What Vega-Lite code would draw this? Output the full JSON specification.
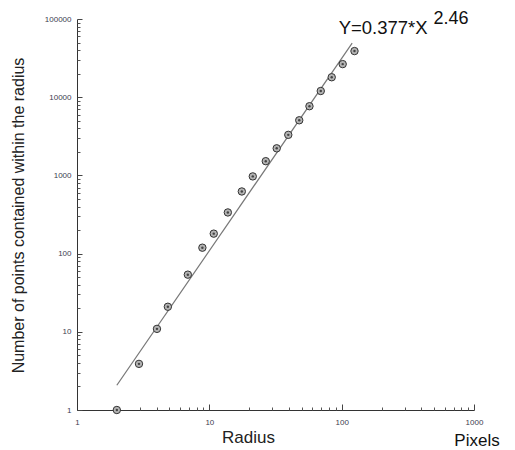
{
  "$schema": "https://vega.github.io/schema/vega-lite/v6.json",
  "width": 397,
  "height": 391,
  "autosize": {"type": "none"},
  "padding": {"left": 77, "top": 19, "right": 41, "bottom": 40},
  "background": "white",
  "config": {
    "view": {"stroke": null},
    "axis": {
      "grid": false,
      "domainColor": "#333333",
      "domainWidth": 1,
      "labelFont": "Liberation Sans",
      "labelFontSize": 8,
      "labelColor": "#3d3d50",
      "labelFlush": false,
      "labelOverlap": false,
      "titleFont": "Liberation Sans",
      "titleFontWeight": "normal",
      "titleColor": "#222222"
    }
  },
  "datasets": {
    "pts": [
      {"x": 2, "y": 1},
      {"x": 2.94, "y": 3.89},
      {"x": 4.02, "y": 10.9},
      {"x": 4.86, "y": 20.9},
      {"x": 6.88, "y": 53.8},
      {"x": 8.86, "y": 119},
      {"x": 10.8, "y": 180},
      {"x": 13.8, "y": 336},
      {"x": 17.6, "y": 623},
      {"x": 21.3, "y": 971},
      {"x": 26.7, "y": 1520},
      {"x": 32.3, "y": 2220},
      {"x": 39.5, "y": 3300},
      {"x": 47.8, "y": 5070},
      {"x": 57.1, "y": 7670},
      {"x": 69.5, "y": 12000},
      {"x": 84.1, "y": 18000},
      {"x": 101.8, "y": 26500},
      {"x": 125, "y": 38900}
    ],
    "fit": [
      {"x": 2, "y": 2.074},
      {"x": 120, "y": 49100}
    ]
  },
  "resolve": {"axis": {"x": "independent", "y": "independent"}},
  "layer": [
    {
      "data": {"name": "fit"},
      "mark": {"type": "line", "color": "#777777", "strokeWidth": 1.2},
      "encoding": {
        "x": {
          "field": "x", "type": "quantitative",
          "scale": {"type": "log", "domain": [1, 1000], "nice": false},
          "axis": {
            "orient": "bottom",
            "values": [1, 10, 100, 1000],
            "format": "d",
            "ticks": false,
            "labelPadding": 8,
            "title": "Radius",
            "titleFontSize": 17,
            "titleX": 171,
            "titleY": 27,
            "titleAlign": "center",
            "titleBaseline": "middle"
          }
        },
        "y": {
          "field": "y", "type": "quantitative",
          "scale": {"type": "log", "domain": [1, 100000], "nice": false},
          "axis": {
            "orient": "left",
            "values": [1, 10, 100, 1000, 10000, 100000],
            "format": "d",
            "ticks": false,
            "labelPadding": 6,
            "title": "Number of points contained within the radius",
            "titleFontSize": 16,
            "titleAngle": 270,
            "titleX": -59,
            "titleY": 196,
            "titleAlign": "center",
            "titleBaseline": "middle"
          }
        }
      }
    },
    {
      "data": {"name": "pts"},
      "mark": {"type": "point", "shape": "circle", "filled": true, "fill": "#b4b4b4", "stroke": "#333333", "strokeWidth": 1, "size": 55, "opacity": 1},
      "encoding": {
        "x": {
          "field": "x", "type": "quantitative",
          "axis": {
            "orient": "bottom",
            "values": [1, 10, 100, 1000],
            "labels": false,
            "domain": false,
            "ticks": true,
            "tickColor": "#444444",
            "tickWidth": 1,
            "tickSize": 6,
            "offset": -6,
            "title": null
          }
        },
        "y": {
          "field": "y", "type": "quantitative",
          "axis": {
            "orient": "left",
            "values": [1, 10, 100, 1000, 10000, 100000],
            "labels": false,
            "domain": false,
            "ticks": true,
            "tickColor": "#444444",
            "tickWidth": 1,
            "tickSize": 5,
            "offset": -5,
            "title": null
          }
        }
      }
    },
    {
      "data": {"name": "pts"},
      "mark": {"type": "point", "shape": "circle", "filled": true, "fill": "#444444", "size": 6, "opacity": 1},
      "encoding": {
        "x": {
          "field": "x", "type": "quantitative",
          "axis": {
            "orient": "bottom",
            "values": [2,3,4,5,6,7,8,9,20,30,40,50,60,70,80,90,200,300,400,500,600,700,800,900],
            "labels": false,
            "domain": false,
            "ticks": true,
            "tickColor": "#555555",
            "tickWidth": 1,
            "tickSize": 3,
            "offset": -3,
            "title": null
          }
        },
        "y": {
          "field": "y", "type": "quantitative",
          "axis": {
            "orient": "left",
            "values": [2,3,4,5,6,7,8,9,20,30,40,50,60,70,80,90,200,300,400,500,600,700,800,900,2000,3000,4000,5000,6000,7000,8000,9000,20000,30000,40000,50000,60000,70000,80000,90000],
            "labels": false,
            "domain": false,
            "ticks": true,
            "tickColor": "#555555",
            "tickWidth": 1,
            "tickSize": 3,
            "offset": -3,
            "title": null
          }
        }
      }
    },
    {
      "data": {"values": [{"t": "Y=0.377*X"}]},
      "mark": {"type": "text", "align": "left", "baseline": "alphabetic", "font": "Liberation Sans", "fontSize": 18.5, "color": "#111111"},
      "encoding": {
        "x": {"datum": 94.9, "type": "quantitative", "axis": null},
        "y": {"datum": 64200, "type": "quantitative", "axis": null},
        "text": {"field": "t"}
      }
    },
    {
      "data": {"values": [{"t": "2.46"}]},
      "mark": {"type": "text", "align": "left", "baseline": "alphabetic", "font": "Liberation Sans", "fontSize": 18, "color": "#111111"},
      "encoding": {
        "x": {"datum": 494.8, "type": "quantitative", "axis": null},
        "y": {"datum": 86300, "type": "quantitative", "axis": null},
        "text": {"field": "t"}
      }
    },
    {
      "data": {"values": [{"t": "Pixels"}]},
      "mark": {"type": "text", "align": "center", "baseline": "middle", "font": "Liberation Sans", "fontSize": 17, "color": "#111111", "dx": 3, "dy": 31},
      "encoding": {
        "x": {"datum": 1000, "type": "quantitative", "axis": null},
        "y": {"datum": 1, "type": "quantitative", "axis": null},
        "text": {"field": "t"}
      }
    }
  ]
}
